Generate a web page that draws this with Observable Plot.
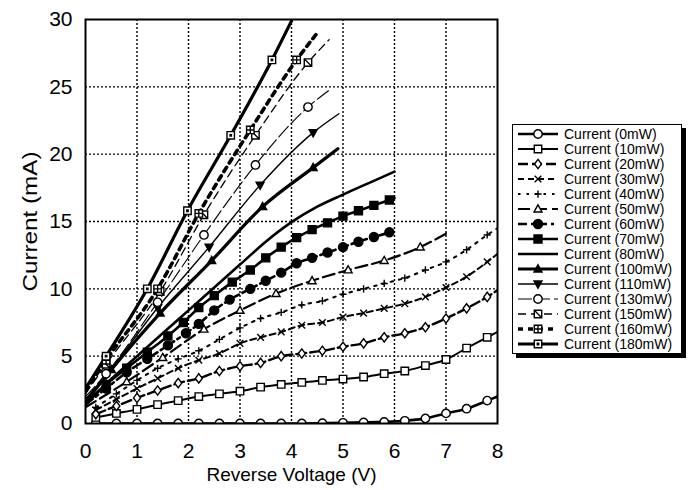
<!DOCTYPE html>
<html><head><meta charset="utf-8">
<script src="https://cdn.jsdelivr.net/npm/d3@7"></script>
<script src="https://cdn.jsdelivr.net/npm/@observablehq/plot@0.6"></script>
<style>
body{margin:0;background:#fff;font-family:"Liberation Sans",Arial,sans-serif;}
#wrap{position:relative;width:689px;height:490px;overflow:hidden;}
#legend{position:absolute;left:512px;top:124px;width:168px;border:1.5px solid #000;box-shadow:4px 4px 0 #000;background:#fff;padding:1px 0 2px 0;}
.row{display:flex;align-items:center;height:15px;font-size:14px;white-space:nowrap;color:#000;}
.row svg{flex:none;margin-left:3px;margin-right:4px;}
</style></head><body><div id="wrap"><div id="chart"></div><div id="legend"></div></div>
<script>
// ---- data ----
const xTicks = [0,1,2,3,4,5,6,7,8];
const yTicks = [0,5,10,15,20,25,30];
const xTitle = "Reverse Voltage (V)";
const yTitle = "Current (mA)";
const seriesNames = ["Current (0mW)","Current (10mW)","Current (20mW)","Current (30mW)","Current (40mW)","Current (50mW)","Current (60mW)","Current (70mW)","Current (80mW)","Current (100mW)","Current (110mW)","Current (130mW)","Current (150mW)","Current (160mW)","Current (180mW)"];

const vLow = [0.2,0.6,1.0,1.4,1.8,2.2,2.6,3.0,3.4,3.8,4.2,4.6,5.0,5.4,5.8,6.2,6.6,7.0,7.4,7.8,8.0];
const i0   = [0,0,0,0,0,0,0,0,0,0,0,0.02,0.05,0.08,0.12,0.2,0.38,0.75,1.1,1.7,2.0];
const i10  = [0.45,0.75,1.05,1.4,1.7,2.0,2.2,2.4,2.7,2.9,3.05,3.2,3.3,3.45,3.7,3.9,4.3,4.75,5.6,6.4,6.8];
const i20  = [0.7,1.3,1.9,2.45,3.0,3.35,3.9,4.25,4.5,5.0,5.2,5.4,5.7,5.95,6.4,6.7,7.15,7.8,8.55,9.4,9.9];
const i30  = [1.0,1.8,2.6,3.35,4.1,4.7,5.2,5.95,6.4,6.8,7.3,7.5,7.9,8.2,8.55,8.9,9.4,10.1,10.9,12.0,12.6];
const i40  = [1.2,2.2,3.2,4.1,4.8,5.4,6.25,7.1,7.8,8.25,8.8,9.1,9.6,10.0,10.4,10.8,11.4,12.0,12.9,14.0,14.5];
const v50  = [0.0,0.8,1.5,2.3,3.0,3.7,4.4,5.1,5.8,6.5,7.0];
const i50  = [1.2,3.1,4.9,7.0,8.4,9.65,10.6,11.4,12.1,13.1,14.1];
const v60  = [0.0,0.4,0.8,1.2,1.6,1.95,2.2,2.5,2.8,3.2,3.5,3.8,4.1,4.4,4.7,5.0,5.3,5.6,5.9,6.0];
const i60  = [1.4,2.6,3.8,4.8,5.8,6.7,7.4,8.4,9.2,10.0,10.6,11.2,11.9,12.3,12.7,13.1,13.5,13.85,14.2,14.35];
const v70  = [0.0,0.4,0.8,1.2,1.6,1.9,2.2,2.5,2.85,3.2,3.5,3.8,4.1,4.4,4.7,5.0,5.3,5.6,5.9,6.0];
const i70  = [1.5,2.9,4.1,5.3,6.5,7.5,8.6,9.5,10.5,11.4,12.3,13.1,13.8,14.4,14.9,15.4,15.8,16.2,16.6,16.75];
const v80  = [0.0,0.5,1.0,1.5,2.0,2.5,3.0,3.5,4.0,4.5,5.0,5.5,6.0];
const i80  = [1.4,3.3,5.0,6.7,8.4,10.1,11.8,13.5,14.95,16.1,17.0,17.85,18.7];
const v100 = [0.0,0.5,1.45,2.45,3.44,4.42,4.9];
const i100 = [1.6,4.0,8.2,12.1,16.1,19.0,20.4];
const v110 = [0.0,0.4,1.4,2.4,3.39,4.42,4.92];
const i110 = [1.8,3.6,8.6,13.1,17.7,21.6,23.0];
const v130 = [0.0,0.4,1.4,2.3,3.3,4.32,4.75];
const i130 = [2.0,3.7,9.0,14.0,19.2,23.5,24.8];
const v150 = [0.0,0.4,1.45,2.3,3.3,4.32,4.73];
const i150 = [2.2,4.4,9.8,15.5,21.4,26.8,28.5];
const v160 = [0.0,0.4,1.4,2.2,3.2,4.1,4.5];
const i160 = [2.4,4.7,10.0,15.6,21.8,27.0,29.0];
const v180 = [0.0,0.4,1.2,1.98,2.82,3.62,4.0];
const i180 = [2.6,5.0,10.0,15.8,21.4,27.0,29.9];

const seriesV = [vLow,vLow,vLow,vLow,vLow,v50,v60,v70,v80,v100,v110,v130,v150,v160,v180];
const seriesI = [i0,i10,i20,i30,i40,i50,i60,i70,i80,i100,i110,i130,i150,i160,i180];

// ---- symbols ----
function sq(ctx, s){ctx.moveTo(-s,-s);ctx.lineTo(s,-s);ctx.lineTo(s,s);ctx.lineTo(-s,s);ctx.closePath();}
const symCircle = {draw(ctx,size){const r=Math.sqrt(size/Math.PI);ctx.moveTo(r,0);ctx.arc(0,0,r,0,2*Math.PI);}};
const symSquare = {draw(ctx,size){sq(ctx,Math.sqrt(size)/2);}};
const symDiamond = {draw(ctx,size){const r=Math.sqrt(size)/1.6;ctx.moveTo(0,-r);ctx.lineTo(r*0.75,0);ctx.lineTo(0,r);ctx.lineTo(-r*0.75,0);ctx.closePath();}};
const symTimes = {draw(ctx,size){const r=Math.sqrt(size)/2.4;ctx.moveTo(-r,-r);ctx.lineTo(r,r);ctx.moveTo(r,-r);ctx.lineTo(-r,r);}};
const symPlus = {draw(ctx,size){const r=Math.sqrt(size)/2.2;ctx.moveTo(-r,0);ctx.lineTo(r,0);ctx.moveTo(0,-r);ctx.lineTo(0,r);}};
const symTri = {draw(ctx,size){const h=Math.sqrt(size)/1.9;ctx.moveTo(0,-h);ctx.lineTo(h*0.95,h*0.7);ctx.lineTo(-h*0.95,h*0.7);ctx.closePath();}};
const symTriDown = {draw(ctx,size){const h=Math.sqrt(size)/1.9;ctx.moveTo(0,h);ctx.lineTo(h*0.95,-h*0.7);ctx.lineTo(-h*0.95,-h*0.7);ctx.closePath();}};
const symSqDot = {draw(ctx,size){sq(ctx,Math.sqrt(size)/2);sq(ctx,0.7);}};
const symSqCross = {draw(ctx,size){const s=Math.sqrt(size)/2;sq(ctx,s);ctx.moveTo(-s,0);ctx.lineTo(s,0);ctx.moveTo(0,-s);ctx.lineTo(0,s);}};
const symSqSlash = {draw(ctx,size){const s=Math.sqrt(size)/2;sq(ctx,s);ctx.moveTo(-s,-s);ctx.lineTo(s,s);}};

// ---- styles (per series, same order) ----
const styles = [
  {w:2.6, dash:null,        sym:symCircle,  fill:"#fff", r:4.2},
  {w:2.0, dash:null,        sym:symSquare,  fill:"#fff", r:4.2},
  {w:2.4, dash:"10,4",      sym:symDiamond, fill:"#fff", r:4.2},
  {w:2.0, dash:"6,4",       sym:symTimes,   fill:"none", r:4.5},
  {w:2.0, dash:"2.5,6",     sym:symPlus,    fill:"none", r:4.5},
  {w:2.2, dash:"12,5",      sym:symTri,     fill:"#fff", r:4.5},
  {w:2.6, dash:"9,4,3,4",   sym:symCircle,  fill:"#000", r:4.5},
  {w:2.6, dash:null,        sym:symSquare,  fill:"#000", r:4.5},
  {w:2.6, dash:null,        sym:null,       fill:"#000", r:0},
  {w:3.2, dash:null,        sym:symTri,     fill:"#000", r:4.5},
  {w:1.4, dash:null,        sym:symTriDown, fill:"#000", r:4.5},
  {w:1.1, dash:"14,4",      sym:symCircle,  fill:"#fff", r:4.2},
  {w:1.3, dash:"8,5",       sym:symSqSlash, fill:"#fff", r:4.2},
  {w:3.6, dash:"5,5",       sym:symSqCross, fill:"#fff", r:4.2},
  {w:3.2, dash:null,        sym:symSqDot,   fill:"#fff", r:4.2}
];

// ---- build rows ----
const lineMarks = [], dotMarks = [];
seriesNames.forEach((name, k) => {
  const vs = seriesV[k], is = seriesI[k];
  const rows = vs.map((v, j) => ({name, v, c: is[j], j, n: vs.length}));
  const st = styles[k];
  lineMarks.push(Plot.line(rows, {x:"v", y:"c", stroke:"#000", strokeWidth:st.w, strokeDasharray:st.dash, curve:"monotone-x", strokeLinejoin:"round", clip:true}));
  if (st.sym) {
    const pts = rows.filter(d => d.v > 0 && d.j < d.n - 1);
    dotMarks.push(Plot.dot(pts, {x:"v", y:"c", symbol:st.sym, r:st.r, fill:st.fill, stroke:"#000", strokeWidth:1.4, clip:true}));
  }
});

const chart = Plot.plot({
  width: 505, height: 490,
  marginLeft: 85, marginRight: 8, marginTop: 19, marginBottom: 67,
  style: {fontFamily: "'Liberation Sans', Arial, sans-serif", fontSize: "21px", color: "#000", background: "#fff", overflow: "visible"},
  x: {domain:[0,8], ticks:xTicks, tickSize:0, tickPadding:20, tickFormat:d=>String(d), label:null},
  y: {domain:[0,30], ticks:yTicks, tickSize:0, tickPadding:13, tickFormat:d=>String(d), label:null},
  marks: [
    Plot.gridX(xTicks.slice(1,-1), {stroke:"#000", strokeOpacity:1, strokeWidth:1.4, strokeDasharray:"2,2"}),
    Plot.gridY(yTicks.slice(1,-1), {stroke:"#000", strokeOpacity:1, strokeWidth:1.4, strokeDasharray:"2,2"}),
    ...lineMarks,
    ...dotMarks,
    Plot.frame({stroke:"#000", strokeWidth:2}),
    Plot.text([xTitle], {text:d=>d, frameAnchor:"bottom", lineAnchor:"middle", textAnchor:"middle", dy:51, fontSize:19, fill:"#000"}),
    Plot.text([yTitle], {text:d=>d, frameAnchor:"left", lineAnchor:"middle", textAnchor:"middle", dx:-55, rotate:-90, fontSize:20, fill:"#000", className:"ytitle"})
  ]
});
document.getElementById("chart").appendChild(chart);
// stretch the y title to the length it has in the reference
d3.select(chart).selectAll("text").filter(function(){return this.textContent === yTitle;})
  .attr("textLength", 140).attr("lengthAdjust", "spacingAndGlyphs");

// ---- legend ----
const legend = d3.select("#legend");
seriesNames.forEach((name, k) => {
  const st = styles[k];
  const row = legend.append("div").attr("class","row");
  const svg = row.append("svg").attr("width",44).attr("height",14);
  svg.append("line").attr("x1",2).attr("x2",42).attr("y1",7).attr("y2",7)
    .attr("stroke","#000").attr("stroke-width",st.w).attr("stroke-dasharray",st.dash);
  if (st.sym) {
    svg.append("path").attr("transform","translate(22,7)")
      .attr("d", d3.symbol(st.sym, Math.PI*st.r*st.r)())
      .attr("fill", st.fill).attr("stroke","#000").attr("stroke-width",1.4);
  }
  row.append("span").text(name);
});
</script>
</body></html>
